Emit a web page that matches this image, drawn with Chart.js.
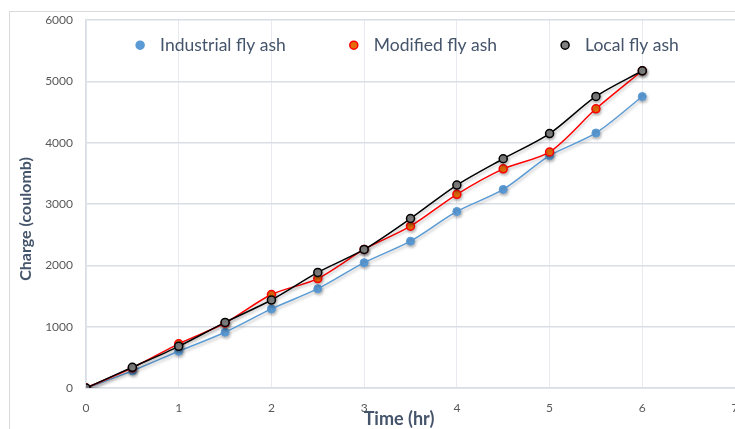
<!DOCTYPE html>
<html>
<head>
<meta charset="utf-8">
<script src="https://cdn.jsdelivr.net/npm/chart.js@4"></script>
<style>
  html, body { margin: 0; padding: 0; background: #fff; overflow: hidden; }
  #frame { position: absolute; left: 9px; top: 11px; width: 800px; height: 500px; border: 1px solid #d9d9d9; }
  #wrap { position: absolute; left: 0; top: 0; width: 760px; height: 429px; }
</style>
</head>
<body>
<div id="frame"></div>
<div id="wrap"><canvas id="chart" width="760" height="429"></canvas></div>
<script>
const times = [0, 0.5, 1, 1.5, 2, 2.5, 3, 3.5, 4, 4.5, 5, 5.5, 6];
const industrial = [0, 280, 600, 910, 1290, 1620, 2045, 2395, 2880, 3240, 3790, 4160, 4755];
const modified = [0, 330, 720, 1060, 1525, 1785, 2260, 2640, 3160, 3575, 3850, 4555, 5175];
const local = [0, 338, 680, 1070, 1435, 1885, 2260, 2765, 3310, 3740, 4150, 4757, 5175];
const xTicks = [0, 1, 2, 3, 4, 5, 6, 7];
const yTicks = [0, 1000, 2000, 3000, 4000, 5000, 6000];
const xTitle = "Time (hr)";
const yTitle = "Charge (coulomb)";

const pts = (vals) => vals.map((v, i) => ({ x: times[i], y: v }));

const font = "Lato, 'Open Sans', sans-serif";

const shadow = {
  id: "shadow",
  beforeDatasetsDraw(chart) {
    const ctx = chart.ctx;
    ctx.save();
    ctx.shadowColor = "rgba(0,0,0,0.25)";
    ctx.shadowBlur = 3;
    ctx.shadowOffsetX = 1;
    ctx.shadowOffsetY = 2;
  },
  afterDatasetsDraw(chart) {
    chart.ctx.restore();
  },
};

// legend inside the plot area along the top; axis titles placed off-centre like excel does
const extras = {
  id: "extras",
  afterDatasetsDraw(chart) {
    const ctx = chart.ctx;
    const area = chart.chartArea;
    const sets = chart.data.datasets;
    ctx.save();
    ctx.font = "17.5px " + font;
    ctx.textBaseline = "middle";
    const widths = sets.map((d) => ctx.measureText(d.label).width);
    const total = widths.reduce((a, w) => a + w + 20, 0) + 68 * (sets.length - 1);
    let x = (area.left + area.right) / 2 - total / 2 - 1;
    const y = area.top + 25;
    sets.forEach((d, i) => {
      ctx.beginPath();
      ctx.arc(x, y, 4, 0, Math.PI * 2);
      ctx.fillStyle = d.pointBackgroundColor;
      ctx.fill();
      ctx.lineWidth = 1.5;
      ctx.strokeStyle = d.pointBorderColor;
      ctx.stroke();
      ctx.fillStyle = "#44546a";
      ctx.fillText(d.label, x + 20, y);
      x += 20 + widths[i] + 68;
    });

    ctx.textAlign = "center";
    ctx.font = "bold 18px " + font;
    ctx.fillText(xTitle, 399, 419);

    ctx.translate(26, 219);
    ctx.rotate(-Math.PI / 2);
    ctx.font = "bold 16px " + font;
    ctx.fillText(yTitle, 0, 0);
    ctx.restore();
  },
};

const chart = new Chart(document.getElementById("chart"), {
  type: "line",
  data: {
    datasets: [
      {
        label: "Industrial fly ash",
        data: pts(industrial),
        borderColor: "#5b9bd5",
        backgroundColor: "#5b9bd5",
        pointBackgroundColor: "#5b9bd5",
        pointBorderColor: "#5b9bd5",
        borderWidth: 1.5,
        pointRadius: 4,
        pointBorderWidth: 1,
        tension: 0.3,
        order: 2,
      },
      {
        label: "Modified fly ash",
        data: pts(modified),
        borderColor: "#ff0000",
        backgroundColor: "#e46c0a",
        pointBackgroundColor: "#e46c0a",
        pointBorderColor: "#ff0000",
        borderWidth: 1.5,
        pointRadius: 4,
        pointBorderWidth: 1.5,
        tension: 0.3,
        order: 1,
      },
      {
        label: "Local fly ash",
        data: pts(local),
        borderColor: "#000000",
        backgroundColor: "#808080",
        pointBackgroundColor: "#808080",
        pointBorderColor: "#000000",
        borderWidth: 1.5,
        pointRadius: 4,
        pointBorderWidth: 1.5,
        tension: 0.3,
        order: 0,
      },
    ],
  },
  options: {
    responsive: false,
    animation: false,
    layout: {
      padding: { left: 10, right: 25, top: 20, bottom: 0 },
    },
    plugins: {
      tooltip: { enabled: false },
      legend: { display: false },
    },
    scales: {
      x: {
        type: "linear",
        min: 0,
        max: 7,
        afterBuildTicks: (scale) => {
          scale.ticks = xTicks.map((v) => ({ value: v }));
        },
        afterFit: (scale) => {
          scale.height = 41;
        },
        grid: { color: "#e7ebf0", drawTicks: false },
        border: { color: "#d9dee6", width: 1.5 },
        ticks: {
          padding: 13,
          color: "#595959",
          font: { family: font, size: 12 },
          callback: (v) => String(v),
        },
      },
      y: {
        min: 0,
        max: 6000,
        afterBuildTicks: (scale) => {
          scale.ticks = yTicks.map((v) => ({ value: v }));
        },
        afterFit: (scale) => {
          scale.width = 76;
        },
        grid: { color: "#d9dee6", lineWidth: 1.5, drawTicks: false },
        border: { color: "#d9dee6", width: 1.5 },
        ticks: {
          padding: 13,
          color: "#595959",
          font: { family: font, size: 12 },
          callback: (v) => String(v),
        },
      },
    },
  },
  plugins: [shadow, extras],
});
</script>
</body>
</html>
